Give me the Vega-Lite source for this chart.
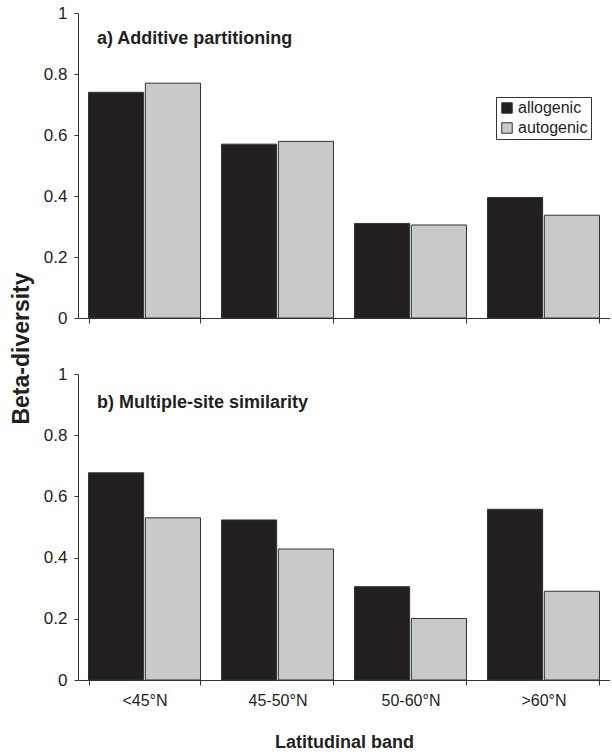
{
  "$schema": "https://vega.github.io/schema/vega-lite/v6.json",
  "background": "white",
  "padding": {"left": 10, "top": 4, "right": 0, "bottom": 0},
  "config": {
    "font": "Liberation Sans",
    "view": {"stroke": null},
    "axis": {
      "domainColor": "#333333",
      "tickColor": "#333333",
      "labelColor": "#231f20",
      "titleColor": "#231f20",
      "labelFont": "Liberation Sans",
      "titleFont": "Liberation Sans",
      "grid": false
    },
    "title": {"font": "Liberation Sans", "color": "#231f20"}
  },
  "datasets": {
    "beta": [
      {"panel": "a", "band": "<45°N", "type": "allogenic", "value": 0.74},
      {"panel": "a", "band": "<45°N", "type": "autogenic", "value": 0.77},
      {"panel": "a", "band": "45-50°N", "type": "allogenic", "value": 0.57},
      {"panel": "a", "band": "45-50°N", "type": "autogenic", "value": 0.579},
      {"panel": "a", "band": "50-60°N", "type": "allogenic", "value": 0.31},
      {"panel": "a", "band": "50-60°N", "type": "autogenic", "value": 0.305},
      {"panel": "a", "band": ">60°N", "type": "allogenic", "value": 0.395},
      {"panel": "a", "band": ">60°N", "type": "autogenic", "value": 0.337},
      {"panel": "b", "band": "<45°N", "type": "allogenic", "value": 0.677},
      {"panel": "b", "band": "<45°N", "type": "autogenic", "value": 0.53},
      {"panel": "b", "band": "45-50°N", "type": "allogenic", "value": 0.523},
      {"panel": "b", "band": "45-50°N", "type": "autogenic", "value": 0.428},
      {"panel": "b", "band": "50-60°N", "type": "allogenic", "value": 0.305},
      {"panel": "b", "band": "50-60°N", "type": "autogenic", "value": 0.201},
      {"panel": "b", "band": ">60°N", "type": "allogenic", "value": 0.558},
      {"panel": "b", "band": ">60°N", "type": "autogenic", "value": 0.29}
    ]
  },
  "data": {"name": "beta"},
  "spacing": 56,
  "bounds": "flush",
  "resolve": {"legend": {"color": "independent"}},
  "vconcat": [
    {
      "width": 532,
      "height": 305,
      "title": {"text": "a) Additive partitioning", "anchor": "start", "frame": "group", "orient": "top", "offset": -58, "dx": 19, "baseline": "alphabetic", "fontSize": 18, "fontWeight": "bold"},
      "transform": [{"filter": "datum.panel === 'a'"}],
      "mark": {"type": "bar", "stroke": "#333333", "strokeWidth": 1},
      "encoding": {
        "x": {"field": "band", "type": "nominal", "sort": ["<45°N", "45-50°N", "50-60°N", ">60°N"],
          "scale": {"paddingInner": 0.158, "paddingOuter": 0.079},
          "axis": {"title": null, "labels": false, "tickBand": "extent", "tickSize": 5, "domainWidth": 1}},
        "xOffset": {"field": "type", "type": "nominal", "scale": {"paddingInner": 0.03, "paddingOuter": 0}},
        "y": {"field": "value", "type": "quantitative", "scale": {"domain": [0, 1], "nice": false},
          "axis": {"title": "Beta-diversity", "values": [0, 0.2, 0.4, 0.6, 0.8, 1], "format": "~g", "labelFontSize": 17, "tickSize": 4, "labelPadding": 7,
            "titleFontSize": 23, "titleFontWeight": "bold", "titleX": -57, "titleY": 335, "titleAngle": -90, "titleBaseline": "middle", "titleAlign": "center"}},
        "color": {"field": "type", "type": "nominal",
          "scale": {"domain": ["allogenic", "autogenic"], "range": ["#231f20", "#c8c9cb"]},
          "legend": {"title": null, "orient": "none", "legendX": 418, "legendY": 84, "symbolType": "square", "symbolSize": 110,
            "symbolStrokeColor": "#333333", "symbolStrokeWidth": 1, "labelFontSize": 16, "labelColor": "#231f20", "labelOffset": 3,
            "rowPadding": 4, "padding": 3, "strokeColor": "#333333", "fillColor": "white"}}
      }
    },
    {
      "width": 532,
      "height": 306,
      "title": {"text": "b) Multiple-site similarity", "anchor": "start", "frame": "group", "orient": "top", "offset": -61, "dx": 19, "baseline": "alphabetic", "fontSize": 18, "fontWeight": "bold"},
      "transform": [{"filter": "datum.panel === 'b'"}],
      "mark": {"type": "bar", "stroke": "#333333", "strokeWidth": 1},
      "encoding": {
        "x": {"field": "band", "type": "nominal", "sort": ["<45°N", "45-50°N", "50-60°N", ">60°N"],
          "scale": {"paddingInner": 0.158, "paddingOuter": 0.079},
          "axis": {"title": "Latitudinal band", "labelAngle": 0, "labelFontSize": 16, "tickBand": "extent", "tickSize": 5, "labelPadding": 7,
            "titleFontSize": 18, "titleFontWeight": "bold", "titlePadding": 25}},
        "xOffset": {"field": "type", "type": "nominal", "scale": {"paddingInner": 0.03, "paddingOuter": 0}},
        "y": {"field": "value", "type": "quantitative", "scale": {"domain": [0, 1], "nice": false},
          "axis": {"title": null, "values": [0, 0.2, 0.4, 0.6, 0.8, 1], "format": "~g", "labelFontSize": 17, "tickSize": 4, "labelPadding": 7}},
        "color": {"field": "type", "type": "nominal",
          "scale": {"domain": ["allogenic", "autogenic"], "range": ["#231f20", "#c8c9cb"]},
          "legend": null}
      }
    }
  ]
}
